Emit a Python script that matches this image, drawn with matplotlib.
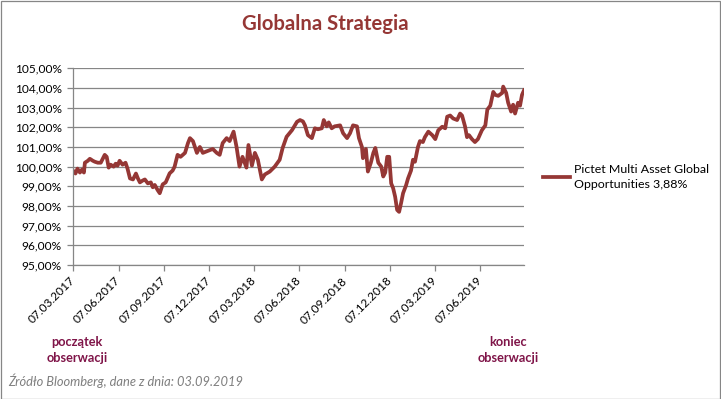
import numpy as np
import pandas as pd
import matplotlib
matplotlib.use("Agg")
import matplotlib.pyplot as plt
import matplotlib.dates as mdates
from matplotlib.patches import Rectangle
from matplotlib.ticker import FixedLocator, FuncFormatter

# ---------------- data ----------------
start_date = "2017-03-07"
end_date = "2019-09-03"
day_offsets = [0, 5, 9, 14, 18, 22, 24, 30, 34, 40, 44, 50, 56, 60, 64, 68, 72, 76, 82, 86,
               90, 94, 100, 106, 110, 115, 121, 127, 131, 135, 141, 145, 151, 157, 161, 165, 171, 175, 181, 187,
               195, 201, 205, 211, 217, 226, 232, 236, 242, 250, 256, 262, 272, 282, 290, 296, 302, 310, 316, 324,
               330, 336, 342, 350, 354, 361, 367, 373, 381, 387, 397, 407, 417, 423, 431, 442, 452, 458, 464, 468,
               474, 482, 488, 494, 502, 506, 512, 516, 522, 528, 539, 545, 553, 559, 565, 573, 577, 583, 585, 591,
               595, 601, 606, 610, 616, 622, 626, 630, 634, 638, 642, 646, 650, 654, 658, 662, 666, 672, 676, 682,
               686, 690, 696, 700, 706, 710, 717, 725, 731, 737, 745, 751, 755, 761, 767, 775, 781, 785, 791, 795,
               799, 805, 811, 817, 825, 832, 836, 842, 848, 852, 858, 866, 868, 874, 878, 884, 888, 892, 898, 902,
               906, 910]
values = [99.8, 99.65, 99.9, 99.7, 99.85, 99.7, 100.2, 100.3, 100.4, 100.3, 100.25, 100.2, 100.2, 100.4, 100.6, 100.5, 99.95, 100.1, 100.0, 100.15,
          100.05, 100.3, 100.1, 100.2, 99.9, 99.4, 99.35, 99.65, 99.4, 99.2, 99.3, 99.35, 99.15, 99.2, 98.95, 99.07, 98.8, 98.65, 99.1, 99.2,
          99.66, 99.8, 100.0, 100.6, 100.5, 100.7, 101.2, 101.45, 101.3, 100.7, 101.0, 100.7, 100.8, 100.9, 100.7, 100.6, 101.2, 101.45, 101.3, 101.78,
          101.0, 100.0, 100.5, 99.95, 101.1, 100.05, 100.7, 100.35, 99.35, 99.6, 99.75, 100.0, 100.35, 100.95, 101.52, 101.86, 102.28, 102.37, 102.3, 102.1,
          101.6, 101.45, 101.95, 101.9, 101.95, 102.37, 102.05, 102.25, 101.95, 102.05, 102.1, 101.7, 101.45, 101.7, 102.1, 102.05, 101.45, 101.0, 100.43, 100.9,
          99.75, 100.2, 100.7, 100.95, 100.2, 100.0, 99.5, 99.7, 100.5, 100.5, 99.15, 98.9, 98.47, 97.8, 97.7, 98.15, 98.65, 99.05, 99.4, 99.8,
          100.35, 100.25, 101.0, 101.3, 101.25, 101.5, 101.78, 101.6, 101.4, 101.85, 102.03, 101.95, 102.54, 102.6, 102.45, 102.37, 102.7, 102.6, 102.05, 101.5,
          101.6, 101.4, 101.25, 101.4, 101.85, 102.1, 102.9, 103.1, 103.8, 103.65, 103.6, 103.75, 104.07, 103.75, 103.25, 102.8, 103.15, 102.7, 103.25, 103.1,
          103.65, 103.88]
y_ticks = [95, 96, 97, 98, 99, 100, 101, 102, 103, 104, 105]
x_tick_labels = ["07.03.2017", "07.06.2017", "07.09.2017", "07.12.2017", "07.03.2018",
                 "07.06.2018", "07.09.2018", "07.12.2018", "07.03.2019", "07.06.2019"]
title = "Globalna Strategia"
series_label = "Pictet Multi Asset Global\nOpportunities 3,88%"
start_note = "początek\nobserwacji"
end_note = "koniec\nobserwacji"
source_note = "Źródło Bloomberg, dane z dnia: 03.09.2019"

dates = pd.Timestamp(start_date) + pd.to_timedelta(day_offsets, unit="D")
tick_dates = [pd.to_datetime(s, format="%d.%m.%Y") for s in x_tick_labels]

# ---------------- style ----------------
FONT = ["Lato", "DejaVu Sans"]
plt.rcParams["font.family"] = FONT
LINE_COLOR = "#953735"
GRID_COLOR = "#868686"
NOTE_COLOR = "#7F1448"
W, H = 721, 399

fig = plt.figure(figsize=(W / 100, H / 100), dpi=100)
fig.patches.append(Rectangle((0.5 / W, 0.5 / H), 1 - 1.5 / W, 1 - 1.5 / H, transform=fig.transFigure,
                             fill=False, edgecolor=GRID_COLOR, lw=0.9))

ax = fig.add_axes([73 / W, 1 - 265 / H, (524 - 73) / W, (265 - 68.3) / H])
line, = ax.plot(dates, values, color=LINE_COLOR, lw=2.7, solid_joinstyle="round")

ax.set_ylim(95, 105)
ax.set_xlim(pd.Timestamp(start_date), pd.Timestamp(end_date))
ax.yaxis.set_major_locator(FixedLocator(y_ticks))
ax.yaxis.set_major_formatter(FuncFormatter(lambda v, p: f"{v:.2f}".replace(".", ",") + "%"))
ax.xaxis.set_major_locator(FixedLocator(mdates.date2num(tick_dates)))
ax.set_xticklabels(x_tick_labels)
ax.grid(axis="y", color=GRID_COLOR, lw=0.9)
ax.set_axisbelow(True)
for s in ["top", "right"]:
    ax.spines[s].set_visible(False)
for s in ["left", "bottom"]:
    ax.spines[s].set_color(GRID_COLOR)
    ax.spines[s].set_linewidth(0.9)
ax.tick_params(axis="both", colors=GRID_COLOR, length=4, width=0.9, labelcolor="black", labelsize=8.6)
ax.tick_params(axis="y", pad=4)
ax.tick_params(axis="x", pad=6)
for lbl in ax.get_xticklabels():
    lbl.set_rotation(45)
    lbl.set_rotation_mode("anchor")
    lbl.set_ha("right")
    lbl.set_va("center")

fig.text(325 / W, 1 - 24 / H, title, ha="center", va="center", fontsize=14.6, fontweight="bold", color=LINE_COLOR)

leg = fig.legend([line], [series_label], loc="center left", bbox_to_anchor=(538 / W, 1 - 177 / H),
                 frameon=False, fontsize=8.9, handlelength=2.2, handletextpad=0.3, borderaxespad=0)
for t in leg.get_texts():
    t.set_linespacing(1.45)

fig.text(77 / W, 1 - 350 / H, start_note, ha="center", va="center", fontsize=9.2, fontweight="bold",
         color=NOTE_COLOR, linespacing=1.45)
fig.text(508 / W, 1 - 350 / H, end_note, ha="center", va="center", fontsize=9.2, fontweight="bold",
         color=NOTE_COLOR, linespacing=1.45)
fig.text(8 / W, 1 - 381 / H, source_note, ha="left", va="center", fontsize=9.3, style="italic", color="#7F7F7F")

fig.savefig("out.png", dpi=100)
